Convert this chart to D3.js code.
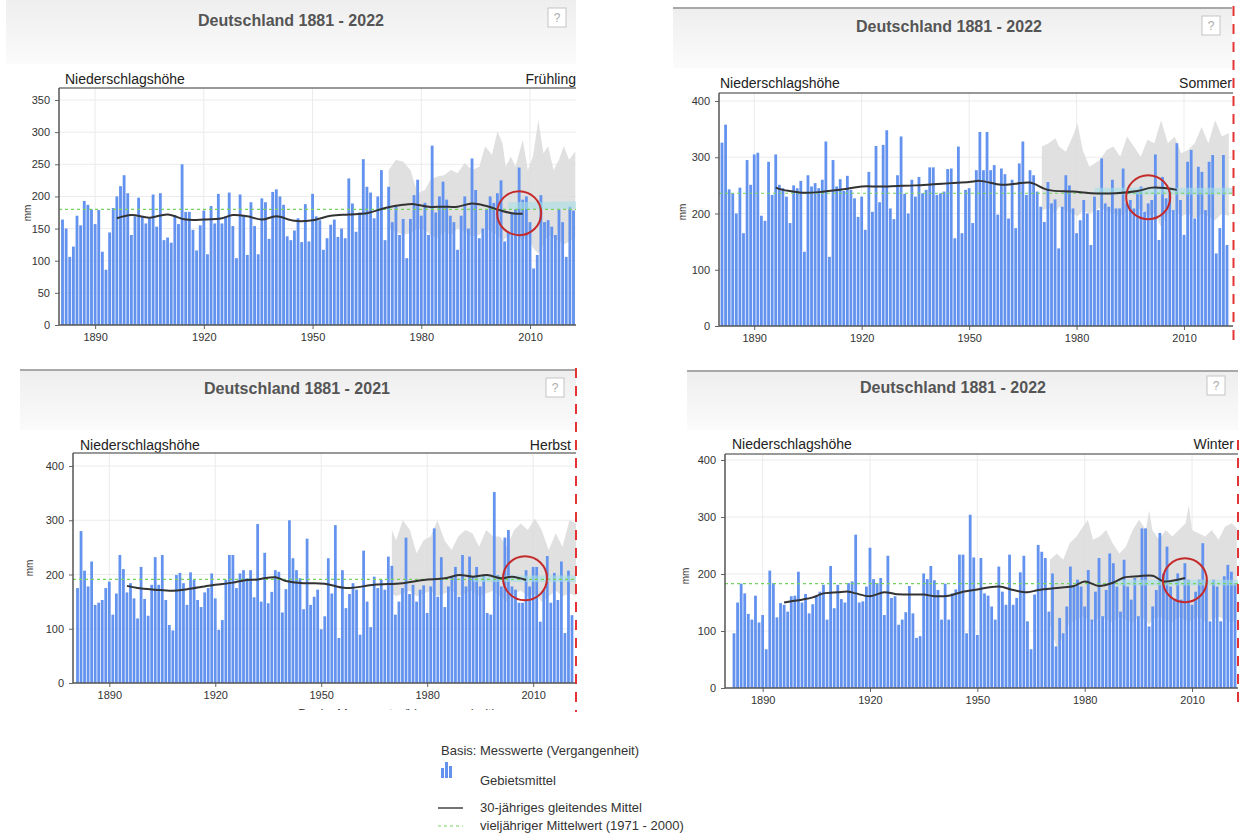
<!DOCTYPE html>
<html>
<head>
<meta charset="utf-8">
<script src="https://cdn.jsdelivr.net/npm/d3@7"></script>
<style>
  body { margin: 0; background: #fff; }
  svg { display: block; font-family: "Liberation Sans", Arial, sans-serif; }
</style>
</head>
<body>
<script>
// Niederschlagshöhe Deutschland, Gebietsmittel je Jahreszeit (mm)
const fruehlingStart = 1881
const fruehlingWerte = [
  164,150,106,122,170,155,193,187,180,157,
  179,114,86,144,182,200,216,233,205,140,
  169,198,169,158,166,203,153,205,132,136,
  128,171,157,250,176,176,148,116,155,178,
  110,185,158,204,158,169,206,154,104,203,
  171,109,191,154,110,197,191,134,207,211,
  200,187,138,132,147,166,129,188,130,204,
  169,163,117,135,156,164,137,150,135,228,
  189,145,175,258,215,206,166,200,241,132,
  215,160,185,140,165,104,165,202,226,170,
  190,140,279,175,200,223,195,170,160,117,
  170,200,150,259,210,135,150,180,200,190,
  205,225,130,145,175,180,245,195,200,160,
  88,109,202,160,163,153,140,180,160,106,
  184,178
]

const sommerStart = 1881
const sommerWerte = [
  326,358,243,236,200,246,165,295,251,305,
  308,196,187,292,233,305,251,245,230,183,
  250,245,258,132,268,248,254,245,260,328,
  123,295,248,261,240,267,242,227,194,230,
  171,274,203,320,220,322,348,209,190,268,
  337,235,200,260,230,265,236,242,282,282,
  233,236,239,279,280,156,319,
  165,242,245,183,277,345,277,345,277,286,
  198,280,270,191,260,174,289,328,233,277,
  268,239,212,185,256,218,225,138,212,268,
  250,209,165,188,224,200,144,230,206,298,
  218,212,260,209,209,280,218,224,209,239,
  248,203,218,224,305,153,265,227,242,206,
  325,224,162,292,313,191,283,274,206,292,
  304,129,174,304,144
]

const herbstStart = 1881
const herbstWerte = [
  175,280,207,178,224,144,148,153,175,187,
  126,165,236,210,167,184,156,119,214,155,
  124,181,232,181,236,153,107,97,199,203,
  184,144,204,190,153,140,167,175,202,156,
  98,116,190,236,236,175,202,208,193,208,
  158,293,150,240,147,168,208,205,130,173,
  300,230,208,193,136,266,144,159,172,99,
  123,230,165,291,83,208,138,164,184,172,
  89,244,150,103,196,175,190,172,233,216,
  126,150,175,268,164,181,150,172,180,129,
  178,285,159,232,140,178,196,214,159,236,
  178,233,196,214,178,200,129,126,
  352,199,178,268,282,178,172,148,148,208,
  178,214,214,113,172,234,148,203,153,224,
  92,207,125
]

const winterStart = 1882
const winterWerte = [
  96,150,183,166,130,120,162,115,128,68,
  206,184,124,149,146,134,161,162,204,150,
  165,131,147,161,169,181,120,214,140,181,
  156,150,184,187,269,150,152,178,246,191,
  184,193,128,232,158,161,111,120,133,179,
  131,88,91,201,191,214,189,172,120,183,
  120,166,173,234,234,96,304,229,93,
  228,166,162,143,120,213,169,146,234,146,
  158,203,232,117,68,164,251,239,228,134,
  201,73,123,96,143,213,178,190,178,143,
  207,120,169,228,126,172,236,219,178,134,
  225,178,155,193,126,280,280,108,143,172,
  272,201,248,178,155,201,155,219,190,146,
  169,190,254,190,117,190,178,117,196,216,
  204,184
]

// 30-jähriges gleitendes Mittel [Jahr, mm]
const mittelFruehling = [[1896,166],[1900,171],[1905,167],[1910,172],[1915,164],[1920,164],[1925,166],[1928,171],[1932,169],[1936,164],[1940,169],[1945,162],[1950,163],[1955,170],[1960,172],[1965,174],[1970,182],[1975,187],[1978,188],[1982,184],[1986,184],[1990,184],[1994,189],[1998,185],[2002,178],[2005,174],[2008,173]]
const mittelSommer = [[1896,246],[1898,242],[1900,240],[1904,237],[1908,238],[1912,241],[1916,244],[1920,248],[1925,248],[1930,249],[1935,250],[1940,252],[1945,254],[1950,256],[1953,258],[1959,251],[1963,253],[1967,255],[1972,242],[1979,239],[1984,236],[1991,236],[1997,240],[2001,246],[2005,245],[2008,242]]
const mittelHerbst = [[1895,179],[1898,175],[1903,172],[1908,170],[1912,173],[1917,178],[1920,181],[1925,185],[1928,189],[1932,191],[1937,195],[1940,188],[1945,184],[1951,183],[1957,175],[1965,181],[1973,184],[1979,190],[1985,193],[1989,199],[1993,196],[1997,199],[2001,193],[2004,196],[2008,190]]
const mittelWinter = [[1896,150],[1898,152],[1901,155],[1904,159],[1907,166],[1911,168],[1914,169],[1916,166],[1920,161],[1924,168],[1927,165],[1931,164],[1935,164],[1938,161],[1942,162],[1946,169],[1950,173],[1956,178],[1960,172],[1964,168],[1967,172],[1973,176],[1977,179],[1980,187],[1984,179],[1988,185],[1991,194],[1995,196],[1999,197],[2002,187],[2006,190],[2008,193]]

// vieljähriger Mittelwert 1971 - 2000
const langFruehling = 180
const langSommer = 236
const langHerbst = 191
const langWinter = 183

// grauer Bereich [Jahr, unten, oben]
const grauFruehling = [[1971,150,241],[1973,145,257],[1975,140,254],[1977,143,241],[1979,150,205],[1981,148,210],[1982.5,140,226],[1984.4,135,231],[1986.3,145,233],[1988.2,140,241],[1990,150,236],[1992,145,252],[1994,138,241],[1996,140,246],[1997.6,150,278],[1999.5,145,265],[2001,140,301],[2002.4,130,283],[2003.3,135,246],[2004.7,140,262],[2006,145,246],[2008,130,288],[2009.4,140,241],[2010.8,120,262],[2012.3,111,319],[2013.7,125,267],[2015,140,278],[2016.5,135,241],[2018,130,257],[2019.3,125,278],[2020.8,130,257],[2022.5,135,270]]
const grauSommer = [[1970.3,205,319],[1972.2,210,325],[1974.1,200,334],[1975.1,212,319],[1977,205,310],[1978.9,200,337],[1980.3,195,360],[1981.7,205,313],[1983.6,200,283],[1986.5,210,295],[1988.4,205,313],[1990.3,200,319],[1992.2,195,301],[1994.1,205,337],[1996,200,319],[1997.9,210,301],[1999.8,195,331],[2001.7,200,325],[2003.6,176,366],[2005.5,200,325],[2007.4,205,337],[2009.2,195,307],[2011.1,200,313],[2013,190,325],[2014.9,200,354],[2016.8,195,325],[2018.7,188,366],[2020.6,200,337],[2022.5,195,343]]
const grauHerbst = [[1970,165,282],[1971.2,160,263],[1973.1,165,300],[1975.1,170,282],[1977,160,239],[1979,165,263],[1981,170,270],[1982.9,160,300],[1984.9,165,263],[1986.9,170,245],[1988.8,160,270],[1990.8,165,282],[1992.8,170,276],[1994.7,160,251],[1996.7,165,282],[1998.7,170,270],[2000.6,160,270],[2002.6,150,251],[2004.6,165,282],[2006.5,170,294],[2008.5,160,282],[2010.5,165,303],[2012.4,150,282],[2014.4,160,245],[2016.4,170,276],[2018.3,160,251],[2020.3,165,300],[2022.3,160,294]]
const grauWinter = [[1970.3,110,225],[1972.2,70,236],[1974,90,225],[1975.8,115,254],[1977.7,120,266],[1979.5,125,283],[1980.9,120,295],[1982.3,115,260],[1984.2,125,266],[1986,120,277],[1987.8,115,254],[1989.7,125,236],[1991.5,120,248],[1993.4,115,277],[1995.2,125,295],[1997.1,120,277],[1998,110,312],[1998.9,120,277],[2000.8,125,260],[2002.6,120,277],[2004.5,115,266],[2006.3,125,277],[2008.2,120,289],[2009.1,115,321],[2010,120,277],[2011.9,125,271],[2013.7,115,266],[2015.5,120,277],[2017.4,125,260],[2019.2,120,283],[2021.1,115,289],[2022.5,120,280]]

// hellblaues Band [Jahr, unten, oben]
const bandFruehling = [[2004,180,191],[2023,181,192]]
const bandSommer = [[1985,234,246],[2024,234,246]]
const bandHerbst = [[1993,186,198],[2023,186,198]]
const bandWinter = [[1989,180,190],[2023,180,190]]

// Markierung (roter Kreis) [Jahr, mm]
const kreisFruehling = [2007, 174]
const kreisSommer = [2000, 229]
const kreisHerbst = [2007.7, 193]
const kreisWinter = [2008, 189]

const titel = ['Deutschland 1881 - 2022', 'Deutschland 1881 - 2022', 'Deutschland 1881 - 2021', 'Deutschland 1881 - 2022']
const jahreszeiten = ['Frühling', 'Sommer', 'Herbst', 'Winter']
const xTicks = [1890, 1920, 1950, 1980, 2010]
const yTicksFruehling = [0, 50, 100, 150, 200, 250, 300, 350]
const yTicks = [0, 100, 200, 300, 400]

const svg = d3.select('body').append('svg')
  .attr('width', 1240)
  .attr('height', 836)

const defs = svg.append('defs')
const grad = defs.append('linearGradient').attr('id', 'kopf')
  .attr('x1', 0).attr('x2', 0).attr('y1', 0).attr('y2', 1)
grad.append('stop').attr('offset', '0%').attr('stop-color', '#eeeeee')
grad.append('stop').attr('offset', '100%').attr('stop-color', '#fbfbfb')

const blau = '#6393ee'
const gruen = '#74d35f'

function panel(p, i) {
  const g = svg.append('g')

  // Kopfbereich
  g.append('rect')
    .attr('x', p.head[0]).attr('y', p.head[1])
    .attr('width', p.head[2] - p.head[0]).attr('height', p.head[3] - p.head[1])
    .attr('fill', 'url(#kopf)')
  if (p.headLine) {
    g.append('line')
      .attr('x1', p.head[0]).attr('x2', p.head[2])
      .attr('y1', p.head[1]).attr('y2', p.head[1])
      .attr('stroke', '#a8a8a8').attr('stroke-width', 2)
  }
  g.append('text')
    .attr('x', p.titleX).attr('y', p.titleY)
    .attr('text-anchor', 'middle')
    .attr('font-size', 16).attr('font-weight', 'bold')
    .attr('fill', '#555')
    .text(titel[i])
  g.append('rect')
    .attr('x', p.help[0]).attr('y', p.help[1])
    .attr('width', 18).attr('height', 19)
    .attr('fill', '#fff').attr('stroke', '#c4c4c4')
  g.append('text')
    .attr('x', p.help[0] + 9).attr('y', p.help[1] + 14)
    .attr('text-anchor', 'middle').attr('font-size', 12)
    .attr('fill', '#aaa').text('?')

  g.append('text')
    .attr('x', p.labelX).attr('y', p.labelY)
    .attr('font-size', 14).attr('fill', '#222')
    .text('Niederschlagshöhe')
  g.append('text')
    .attr('x', p.seasonX).attr('y', p.labelY)
    .attr('text-anchor', 'end')
    .attr('font-size', 14).attr('fill', '#222')
    .text(jahreszeiten[i])

  const x = d3.scaleLinear().domain(p.xDomain).range(p.xRange)
  const y = d3.scaleLinear().domain([0, p.yMax]).range([p.zero, p.yMaxPx])

  const clipId = 'clip' + i
  defs.append('clipPath').attr('id', clipId)
    .append('rect')
    .attr('x', p.left).attr('y', p.top)
    .attr('width', p.right - p.left).attr('height', p.zero - p.top)

  // Gitter
  g.append('g').selectAll('line.h')
    .data(p.yTicks.slice(1))
    .enter().append('line')
      .attr('x1', p.left).attr('x2', p.right)
      .attr('y1', d => y(d)).attr('y2', d => y(d))
      .attr('stroke', '#ebebeb')
  g.append('g').selectAll('line.v')
    .data(xTicks)
    .enter().append('line')
      .attr('x1', d => x(d)).attr('x2', d => x(d))
      .attr('y1', p.top).attr('y2', p.zero)
      .attr('stroke', '#ebebeb')

  const plot = g.append('g').attr('clip-path', 'url(#' + clipId + ')')

  const area = d3.area()
    .x(d => x(d[0]))
    .y0(d => y(d[1]))
    .y1(d => y(d[2]))

  plot.append('path')
    .datum(p.grau)
    .attr('d', area)
    .attr('fill', '#dadada')
    .attr('opacity', 0.85)

  const step = x(p.start + 1) - x(p.start)
  const bw = step * 0.78
  plot.selectAll('rect.bar')
    .data(p.werte)
    .enter().append('rect')
      .attr('x', (d, k) => x(p.start + k) - bw / 2)
      .attr('y', d => y(d))
      .attr('width', bw)
      .attr('height', d => y(0) - y(d))
      .attr('fill', blau)

  plot.append('path')
    .datum(p.band)
    .attr('d', area)
    .attr('fill', '#a6dde6')
    .attr('opacity', 0.6)

  plot.append('line')
    .attr('x1', p.left).attr('x2', p.right)
    .attr('y1', y(p.lang)).attr('y2', y(p.lang))
    .attr('stroke', gruen).attr('stroke-width', 1.2)
    .attr('stroke-dasharray', '3,3')

  const line = d3.line()
    .x(d => x(d[0]))
    .y(d => y(d[1]))
    .curve(d3.curveCatmullRom)
  plot.append('path')
    .datum(p.mittel)
    .attr('d', line)
    .attr('fill', 'none')
    .attr('stroke', '#333')
    .attr('stroke-width', 2)

  // Rahmen und Achsen
  g.append('line')
    .attr('x1', p.left).attr('x2', p.right)
    .attr('y1', p.top).attr('y2', p.top)
    .attr('stroke', '#777').attr('stroke-width', 1.5)

  const ya = g.append('g')
    .attr('transform', 'translate(' + p.left + ',0)')
    .call(d3.axisLeft(y).tickValues(p.yTicks).tickSize(4).tickPadding(5).tickSizeOuter(0))
  ya.select('.domain').remove()
  ya.append('line')
    .attr('y1', p.top).attr('y2', p.zero)
    .attr('stroke', '#555').attr('stroke-width', 1.5)

  const xa = g.append('g')
    .attr('transform', 'translate(0,' + p.zero + ')')
    .call(d3.axisBottom(x).tickValues(xTicks).tickFormat(d3.format('d')).tickSize(4).tickPadding(4).tickSizeOuter(0))
  xa.select('.domain').remove()
  xa.append('line')
    .attr('x1', p.left).attr('x2', p.right)
    .attr('stroke', '#555').attr('stroke-width', 1.5)

  g.selectAll('.tick text').attr('font-size', 11).attr('fill', '#333')
    .attr('font-family', '"Liberation Sans", Arial, sans-serif')
  g.selectAll('.tick line').attr('stroke', '#666')

  g.append('text')
    .attr('transform', 'translate(' + p.mm[0] + ',' + p.mm[1] + ') rotate(-90)')
    .attr('text-anchor', 'middle')
    .attr('font-size', 10).attr('fill', '#333')
    .text('mm')

  g.append('circle')
    .attr('cx', x(p.kreis[0])).attr('cy', y(p.kreis[1]))
    .attr('r', 22)
    .attr('fill', 'none')
    .attr('stroke', '#c42a2a')
    .attr('stroke-width', 2)
}

const panels = [
  { head: [6, 0, 576, 64], headLine: false, titleX: 291, titleY: 26, help: [548, 8],
    labelX: 65, seasonX: 576, labelY: 84,
    left: 59, right: 576, top: 88, zero: 325, yMax: 350, yMaxPx: 100,
    xDomain: [1881, 2022], xRange: [62.5, 573.5], yTicks: yTicksFruehling, mm: [31, 213],
    start: fruehlingStart, werte: fruehlingWerte, mittel: mittelFruehling, lang: langFruehling,
    grau: grauFruehling, band: bandFruehling, kreis: kreisFruehling },
  { head: [673, 8, 1232, 68], headLine: true, titleX: 949, titleY: 32, help: [1202, 16],
    labelX: 720, seasonX: 1232, labelY: 88,
    left: 719, right: 1233, top: 93, zero: 326, yMax: 400, yMaxPx: 101,
    xDomain: [1881, 2022], xRange: [722, 1227], yTicks: yTicks, mm: [686, 212],
    start: sommerStart, werte: sommerWerte, mittel: mittelSommer, lang: langSommer,
    grau: grauSommer, band: bandSommer, kreis: kreisSommer },
  { head: [20, 370, 576, 430], headLine: true, titleX: 297, titleY: 394, help: [546, 378],
    labelX: 80, seasonX: 571, labelY: 450,
    left: 73, right: 576, top: 453, zero: 683, yMax: 400, yMaxPx: 466,
    xDomain: [1881, 2021], xRange: [77.5, 572], yTicks: yTicks, mm: [33, 568],
    start: herbstStart, werte: herbstWerte, mittel: mittelHerbst, lang: langHerbst,
    grau: grauHerbst, band: bandHerbst, kreis: kreisHerbst },
  { head: [687, 371, 1238, 430], headLine: true, titleX: 953, titleY: 393, help: [1207, 376],
    labelX: 732, seasonX: 1234, labelY: 449,
    left: 725, right: 1238, top: 454, zero: 688, yMax: 400, yMaxPx: 460,
    xDomain: [1882, 2022], xRange: [734, 1235], yTicks: yTicks, mm: [689, 576],
    start: winterStart, werte: winterWerte, mittel: mittelWinter, lang: langWinter,
    grau: grauWinter, band: bandWinter, kreis: kreisWinter }
]

panels.forEach(panel)

// abgeschnittener Text unter dem Herbst-Diagramm
defs.append('clipPath').attr('id', 'unten')
  .append('rect').attr('x', 0).attr('y', 700).attr('width', 600).attr('height', 10)
svg.append('text')
  .attr('clip-path', 'url(#unten)')
  .attr('x', 298).attr('y', 718)
  .attr('font-size', 13).attr('fill', '#444')
  .text('Basis: Messwerte (Vergangenheit)')

// rote gestrichelte Linien
const rot = [[1233.5, 6, 346], [576, 368, 712], [1238, 440, 705]]
svg.selectAll('line.rot')
  .data(rot)
  .enter().append('line')
    .attr('x1', d => d[0]).attr('x2', d => d[0])
    .attr('y1', d => d[1]).attr('y2', d => d[2])
    .attr('stroke', '#e23434').attr('stroke-width', 2)
    .attr('stroke-dasharray', '10,8')

// Legende
const leg = svg.append('g').attr('font-size', 13).attr('fill', '#333')
leg.append('text').attr('x', 441).attr('y', 755).text('Basis: Messwerte (Vergangenheit)')
const icon = [[441, 10], [445, 16], [449, 12]]
leg.selectAll('rect.icon')
  .data(icon)
  .enter().append('rect')
    .attr('x', d => d[0]).attr('y', d => 778 - d[1])
    .attr('width', 3).attr('height', d => d[1])
    .attr('fill', blau)
leg.append('text').attr('x', 480).attr('y', 785).text('Gebietsmittel')
leg.append('line').attr('x1', 438).attr('x2', 463).attr('y1', 808).attr('y2', 808)
  .attr('stroke', '#444').attr('stroke-width', 1.5)
leg.append('text').attr('x', 480).attr('y', 812).text('30-jähriges gleitendes Mittel')
leg.append('line').attr('x1', 438).attr('x2', 463).attr('y1', 826).attr('y2', 826)
  .attr('stroke', gruen).attr('stroke-width', 1.2).attr('stroke-dasharray', '3,3')
leg.append('text').attr('x', 480).attr('y', 830).text('vieljähriger Mittelwert (1971 - 2000)')
</script>
</body>
</html>
